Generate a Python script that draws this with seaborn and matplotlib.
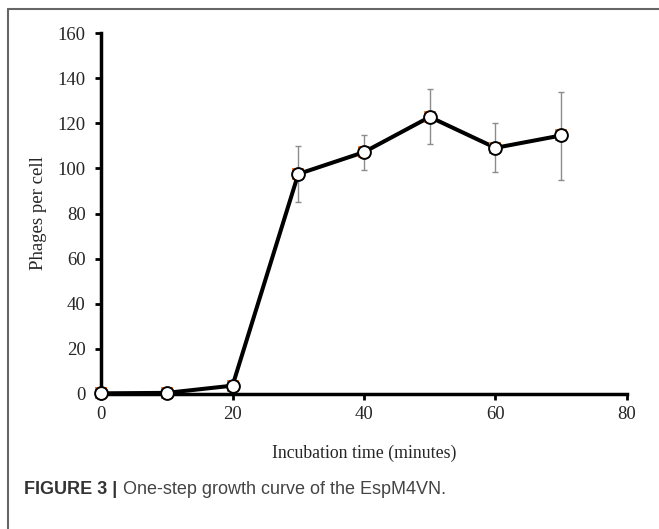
import numpy as np
import pandas as pd
import seaborn as sns
from matplotlib import pyplot as plt
from matplotlib.lines import Line2D

# values
times = [0, 10, 20, 30, 40, 50, 60, 70]
phages = [0.3, 0.5, 3.7, 97.5, 107.2, 122.8, 109.1, 114.6]
err_low = [0.0, 0.0, 0.0, 85.0, 99.4, 110.8, 98.6, 95.0]
err_high = [0.0, 0.0, 0.0, 110.0, 114.9, 135.2, 119.9, 134.0]
x_ticks = [0, 20, 40, 60, 80]
y_ticks = [0, 20, 40, 60, 80, 100, 120, 140, 160]

df = pd.DataFrame({"time": times, "phages": phages, "lo": err_low, "hi": err_high})

sns.set_style("white")
plt.rcParams["font.family"] = ["Liberation Serif", "DejaVu Serif"]

fig = plt.figure(figsize=(6.59, 5.29), dpi=100)
ax = fig.add_axes([0.1533, 0.2552, 0.7981, 0.6824])

# error bars (only where measured)
m = df["hi"] > 0
yerr = np.vstack([(df["phages"] - df["lo"])[m], (df["hi"] - df["phages"])[m]])
ax.errorbar(df["time"][m], df["phages"][m], yerr=yerr, fmt="none",
            ecolor="#8c8c8c", elinewidth=1.0, capsize=2.5, capthick=1.0, zorder=2)

sns.lineplot(data=df, x="time", y="phages", ax=ax, color="black", linewidth=2.9,
             zorder=3)
# faint orange squares behind the circles
ax.scatter(df["time"], df["phages"], marker="s", s=70, color="#f08030", zorder=4,
           linewidths=0)
ax.scatter(df["time"], df["phages"], marker="o", s=85, facecolor="white",
           edgecolor="black", linewidths=1.4, zorder=5)

ax.set_xlim(0, 80)
ax.set_ylim(0, 160)
ax.set_xticks(x_ticks)
ax.set_yticks(y_ticks)
ax.set_xlabel("Incubation time (minutes)", fontsize=12.8, labelpad=15)
ax.set_ylabel("Phages per cell", fontsize=13.5, labelpad=8)
ax.tick_params(axis="both", labelsize=13.5, direction="out", length=4, width=2,
               color="black", bottom=True, left=True)
ax.tick_params(axis="x", pad=5)
ax.tick_params(axis="y", pad=7)

for side in ["top", "right"]:
    ax.spines[side].set_visible(False)
for side in ["left", "bottom"]:
    ax.spines[side].set_linewidth(2.5)
    ax.spines[side].set_color("black")
    ax.spines[side].set_zorder(1)
for coll in ax.collections:
    coll.set_clip_on(False)
for line in ax.lines:
    line.set_clip_on(False)

# frame lines of the figure panel (top and left only)
fig.add_artist(Line2D([8 / 659, 1.0], [1 - 9 / 529, 1 - 9 / 529],
                      transform=fig.transFigure, color="#666666", linewidth=1.5))
fig.add_artist(Line2D([8 / 659, 8 / 659], [0.0, 1 - 9 / 529],
                      transform=fig.transFigure, color="#666666", linewidth=1.5))

fig.text(24 / 659, 1 - 494 / 529, "FIGURE 3 |", fontsize=13, fontweight="bold",
         color="#333333", family=["Liberation Sans", "DejaVu Sans"])
fig.text(123 / 659, 1 - 494 / 529, "One-step growth curve of the EspM4VN.",
         fontsize=13, color="#444444", family=["Liberation Sans", "DejaVu Sans"])

fig.savefig("out.png", dpi=100)
